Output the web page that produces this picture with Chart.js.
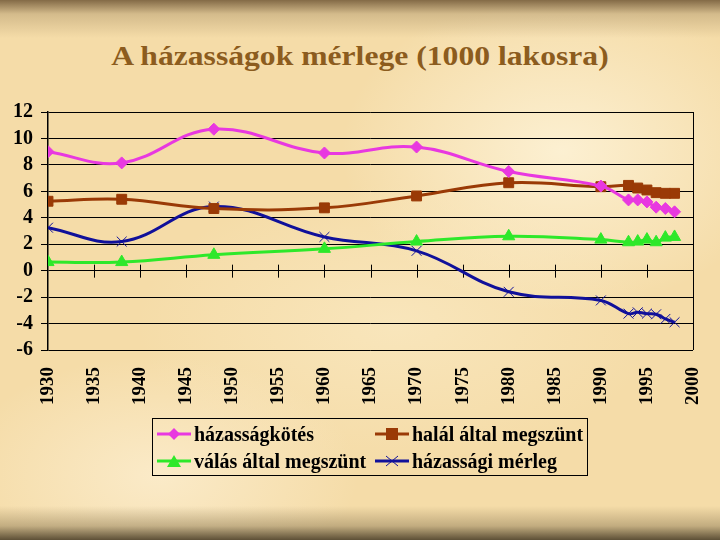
<!DOCTYPE html>
<html>
<head>
<meta charset="utf-8">
<script src="https://cdn.jsdelivr.net/npm/chart.js@4"></script>
<style>
  html, body { margin: 0; padding: 0; }
  body {
    width: 720px; height: 540px; position: relative; overflow: hidden;
    font-family: "Liberation Serif", "Times New Roman", serif;
    background:
      linear-gradient(to bottom, rgba(125,100,65,0.95) 0px, rgba(190,165,120,0.6) 14px, rgba(240,215,165,0) 38px),
      linear-gradient(to top, rgba(85,72,48,0.95) 0px, rgba(160,140,100,0.6) 14px, rgba(240,215,165,0) 34px),
      radial-gradient(ellipse 220px 160px at 78% 28%, rgba(253,242,214,0.9), rgba(253,242,214,0)),
      radial-gradient(ellipse 200px 120px at 22% 88%, rgba(252,238,208,0.8), rgba(252,238,208,0)),
      radial-gradient(ellipse 260px 140px at 55% 60%, rgba(251,236,200,0.6), rgba(251,236,200,0)),
      #f5dca8;
  }
  #title {
    position: absolute; left: 0; top: 40px; width: 720px; text-align: center;
    font-weight: bold; font-size: 28px; color: #8c5c1e;
    transform: scaleX(1.13);
  }
  #wrap { position: absolute; left: 0; top: 0; width: 720px; height: 540px; }
  #legend {
    position: absolute; left: 152px; top: 418px; width: 436px; height: 58px;
    border: 1px solid #000; box-sizing: border-box;
    font-weight: bold; font-size: 20px; color: #000;
  }
  .item { position: absolute; display: flex; align-items: center; height: 26px; white-space: nowrap; }
  .item svg { margin-right: 3px; }
</style>
</head>
<body>
<div id="title">A házasságok mérlege (1000 lakosra)</div>
<div id="wrap"><canvas id="chart" width="720" height="540"></canvas></div>
<div id="legend"></div>
<script>
// Data (per 1000 inhabitants)
const years = [1930, 1938, 1948, 1960, 1970, 1980, 1990, 1993, 1994, 1995, 1996, 1997, 1998];
const marriages = [9.0, 8.15, 10.7, 8.9, 9.35, 7.5, 6.4, 5.35, 5.35, 5.2, 4.8, 4.7, 4.45];
const endedByDeath = [5.25, 5.4, 4.7, 4.75, 5.65, 6.65, 6.35, 6.45, 6.25, 6.1, 5.9, 5.85, 5.85];
const endedByDivorce = [0.65, 0.65, 1.2, 1.65, 2.2, 2.6, 2.35, 2.15, 2.2, 2.35, 2.15, 2.5, 2.55];
const balance = [3.25, 2.2, 4.85, 2.55, 1.5, -1.6, -2.25, -3.25, -3.15, -3.25, -3.3, -3.65, -3.9];
const yTicks = [-6, -4, -2, 0, 2, 4, 6, 8, 10, 12];
const xTicks = [1930, 1935, 1940, 1945, 1950, 1955, 1960, 1965, 1970, 1975, 1980, 1985, 1990, 1995, 2000];

const series = [
  { label: "házasságkötés", values: marriages, color: "#e838e0", style: "rectRot", radius: 6 },
  { label: "halál által megszünt", values: endedByDeath, color: "#9a3a06", style: "rect", radius: 7 },
  { label: "válás által megszünt", values: endedByDivorce, color: "#2ee82a", style: "triangle", radius: 7 },
  { label: "házassági mérleg", values: balance, color: "#10109a", style: "crossRot", radius: 7 }
];

const toPoints = vals => vals.map((v, i) => ({ x: years[i], y: v }));

const font = "'Liberation Serif', 'Times New Roman', serif";

// short tick marks crossing the zero line
const zeroTicks = {
  id: "zeroTicks",
  beforeDatasetsDraw(chart) {
    const { ctx, scales } = chart;
    const y0 = scales.y.getPixelForValue(0);
    ctx.save();
    ctx.strokeStyle = "#000";
    ctx.lineWidth = 1;
    xTicks.forEach(t => {
      if (t === 1930 || t === 2000) return;
      const x = Math.round(scales.x.getPixelForValue(t)) + 0.5;
      ctx.beginPath();
      ctx.moveTo(x, y0 - 6);
      ctx.lineTo(x, y0 + 7);
      ctx.stroke();
    });
    ctx.restore();
  }
};

new Chart(document.getElementById("chart").getContext("2d"), {
  type: "line",
  data: {
    datasets: series.map(s => ({
      label: s.label,
      data: toPoints(s.values),
      borderColor: s.color,
      backgroundColor: s.color,
      borderWidth: 3,
      pointStyle: s.style,
      pointRadius: s.radius,
      pointBorderWidth: 1,
      pointBorderColor: s.color,
      pointBackgroundColor: s.color,
      tension: 0.4,
      fill: false
    }))
  },
  options: {
    responsive: false,
    animation: false,
    layout: { padding: { top: 112, right: 27, bottom: 130, left: 0 } },
    plugins: { legend: { display: false }, title: { display: false }, tooltip: { enabled: false } },
    scales: {
      x: {
        type: "linear",
        min: 1930,
        max: 2000,
        afterFit(scale) {
          scale.height = 60;
          scale.paddingLeft = 0;
          scale.paddingRight = 0;
        },
        afterBuildTicks(scale) { scale.ticks = xTicks.map(v => ({ value: v })); },
        ticks: {
          minRotation: 90, maxRotation: 90, padding: 17, autoSkip: false,
          color: "#000", font: { family: font, size: 19, weight: "bold" },
          callback: v => String(v)
        },
        grid: {
          drawTicks: false,
          color: c => (c.tick && c.tick.value === 2000 ? "#000" : "rgba(0,0,0,0)"),
          lineWidth: 1
        },
        border: { display: false }
      },
      y: {
        min: -6,
        max: 12,
        afterFit(scale) { scale.width = 48; },
        afterBuildTicks(scale) { scale.ticks = yTicks.map(v => ({ value: v })); },
        ticks: {
          padding: 8, color: "#000", autoSkip: false,
          font: { family: font, size: 20, weight: "bold" }
        },
        grid: { color: "#000", lineWidth: 1, tickLength: 7 },
        border: { color: "#000", width: 1.5 }
      }
    }
  },
  plugins: [zeroTicks]
});

// HTML legend with line + marker samples
function sample(s) {
  const c = s.color;
  let m = "";
  if (s.style === "rectRot") m = `<polygon points="17,1 23,7 17,13 11,7" fill="${c}"/>`;
  if (s.style === "rect") m = `<rect x="11" y="1" width="12" height="12" fill="${c}"/>`;
  if (s.style === "triangle") m = `<polygon points="17,1 24,13 10,13" fill="${c}"/>`;
  if (s.style === "crossRot") m = `<path d="M11,2 L23,12 M23,2 L11,12" stroke="${c}" stroke-width="1"/>`;
  return `<svg width="34" height="14"><line x1="0" y1="7" x2="34" y2="7" stroke="${c}" stroke-width="3"/>${m}</svg>`;
}
const pos = [[4, 2], [222, 2], [4, 29], [222, 29]];
const legend = document.getElementById("legend");
series.forEach((s, i) => {
  const d = document.createElement("div");
  d.className = "item";
  d.style.left = pos[i][0] + "px";
  d.style.top = pos[i][1] + "px";
  d.innerHTML = sample(s) + `<span>${s.label}</span>`;
  legend.appendChild(d);
});
</script>
</body>
</html>
